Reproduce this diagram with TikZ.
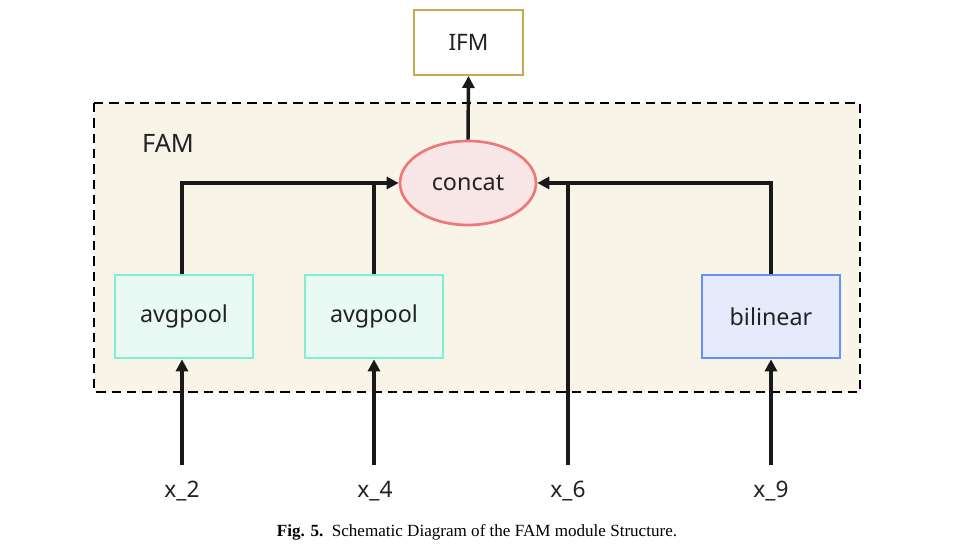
\documentclass[tikz,border=0pt]{standalone}
\usepackage{fontspec}
\setmainfont{Noto Sans}
\newfontfamily\capfont{Liberation Serif}
\usetikzlibrary{shapes.geometric,arrows.meta}
\definecolor{ifmborder}{HTML}{C8A850}
\definecolor{famfill}{HTML}{F8F5E8}
\definecolor{catfill}{HTML}{F8E6E6}
\definecolor{catborder}{HTML}{EE7777}
\definecolor{avgfill}{HTML}{E9FAF4}
\definecolor{avgborder}{HTML}{80EED2}
\definecolor{bilfill}{HTML}{E6EBFC}
\definecolor{bilborder}{HTML}{6690F8}
\definecolor{txt}{HTML}{222222}
\tikzset{
  box/.style={draw, line width=2pt, minimum width=138*0.75pt, minimum height=83*0.75pt, inner sep=0pt, font=\fontsize{17.5}{19}\selectfont, text=txt},
  avg/.style={box, fill=avgfill, draw=avgborder},
  bil/.style={box, fill=bilfill, draw=bilborder},
  conn/.style={line width=2.6pt, draw=black!90, -{Triangle[length=9pt,width=9pt]}},
  plain/.style={line width=2.6pt, draw=black!90},
  lbl/.style={font=\fontsize{17}{19}\selectfont, text=txt},
}
\begin{document}
\begin{tikzpicture}[x=0.75pt,y=-0.75pt]
\useasboundingbox (0,0) rectangle (954,557);
\fill[white] (0,0) rectangle (954,557);
% container
\draw[fill=famfill, line width=1.1pt, dash pattern=on 7pt off 4.5pt] (94,103) rectangle (860,392);
\node[text=txt, font=\fontsize{19}{21}\selectfont] (fam) at (168,143) {FAM};
% nodes
\node[draw=ifmborder, line width=1.5pt, fill=white, minimum width=109*0.75pt, minimum height=65*0.75pt, inner sep=0pt, font=\fontsize{17}{19}\selectfont, text=txt] (ifm) at (468.5,42.5) {IFM};
\node[ellipse, draw=catborder, fill=catfill, line width=2pt, minimum width=136*0.75pt, minimum height=84*0.75pt, inner sep=0pt, font=\fontsize{17.5}{19}\selectfont, text=txt] (cat) at (468,183) {concat};
\node[avg] (a1) at (184,316.5) {avgpool};
\node[avg] (a2) at (374,316.5) {avgpool};
\node[bil] (bl) at (771,316.5) {bilinear};
% inputs
\node[lbl] (x2) at (182,491) {x\_2};
\node[lbl] (x4) at (375,491) {x\_4};
\node[lbl] (x6) at (568,491) {x\_6};
\node[lbl] (x9) at (771,491) {x\_9};
\coordinate (x2t) at (182,465);
\coordinate (x4t) at (374,465);
\coordinate (x6t) at (568,465);
\coordinate (x9t) at (771,465);
\draw[conn] (x2t) -- (a1.south -| x2t);
\draw[conn] (x4t) -- (a2.south -| x4t);
\draw[conn] (x9t) -- (bl.south -| x9t);
% to concat
\draw[plain] (a1.north -| x2t) |- (374,183);
\draw[plain] (a2.north) -- (a2.north |- cat.west);
\draw[conn] (374,183) -- (cat.west);
\draw[plain] (bl.north) |- (568,183);
\draw[plain] (x6t) -- (568,183);
\draw[conn] (568,183) -- (cat.east);
\draw[conn] (cat.north) -- (ifm.south);
% caption
\node[font=\capfont\fontsize{12.8}{14}\selectfont] (cap) at (477,532) {\textbf{Fig. 5.}\ \ Schematic Diagram of the FAM module Structure.};
\end{tikzpicture}
\end{document}
